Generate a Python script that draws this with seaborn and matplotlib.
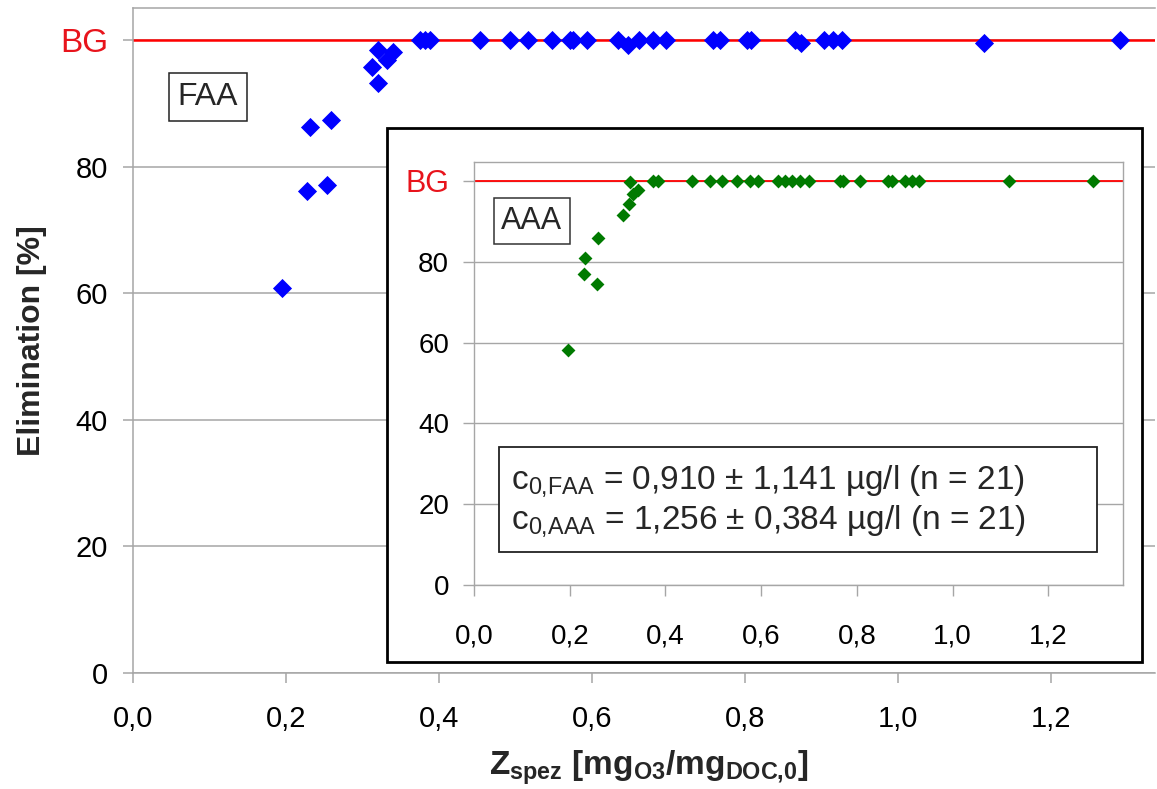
import matplotlib
matplotlib.use("Agg")
import matplotlib.pyplot as plt
import seaborn as sns
import pandas as pd
from matplotlib.patches import Rectangle

# ---------------- data ----------------
faa_x = [0.195, 0.227, 0.231, 0.254, 0.259, 0.312, 0.320, 0.320, 0.332, 0.340,
         0.375, 0.382, 0.388, 0.454, 0.493, 0.516, 0.548, 0.571, 0.575, 0.593,
         0.634, 0.647, 0.661, 0.680, 0.697, 0.758, 0.768, 0.803, 0.808, 0.865,
         0.873, 0.903, 0.915, 0.927, 1.112, 1.290]
faa_y = [60.9, 76.2, 86.3, 77.2, 87.4, 95.8, 93.3, 98.5, 96.9, 98.2,
         100, 100, 100, 100, 100, 100, 100, 100, 100, 100,
         100, 99.2, 100, 100, 100, 100, 100, 100, 100, 100,
         99.5, 100, 100, 100, 99.6, 100]

aaa_x = [0.196, 0.230, 0.232, 0.256, 0.260, 0.312, 0.323, 0.326, 0.333, 0.343,
         0.375, 0.385, 0.455, 0.493, 0.518, 0.549, 0.577, 0.594, 0.636, 0.650,
         0.664, 0.681, 0.699, 0.765, 0.772, 0.807, 0.866, 0.873, 0.901, 0.915,
         0.929, 1.117, 1.294]
aaa_y = [58.1, 76.9, 80.9, 74.5, 85.9, 91.5, 94.2, 99.8, 96.9, 97.8,
         100, 100, 100, 100, 100, 100, 100, 100, 100, 100,
         100, 100, 100, 100, 100, 100, 100, 100, 100, 100,
         100, 100, 100]

x_ticks = [0.0, 0.2, 0.4, 0.6, 0.8, 1.0, 1.2]
x_tick_labels = ["0,0", "0,2", "0,4", "0,6", "0,8", "1,0", "1,2"]
y_ticks = [0, 20, 40, 60, 80, 100]
y_tick_labels = ["0", "20", "40", "60", "80", "BG"]
bg_level = 100

stats_lines = [r"c$_{0{,}\mathrm{FAA}}$ = 0,910 ± 1,141 µg/l (n = 21)",
               r"c$_{0{,}\mathrm{AAA}}$ = 1,256 ± 0,384 µg/l (n = 21)"]

# ---------------- style ----------------
sns.set_theme(style="white")
plt.rcParams["font.family"] = ["Liberation Sans", "DejaVu Sans"]
plt.rcParams["mathtext.fontset"] = "custom"
plt.rcParams["mathtext.rm"] = "Liberation Sans"
plt.rcParams["mathtext.it"] = "Liberation Sans:italic"
plt.rcParams["mathtext.bf"] = "Liberation Sans:bold"

GRID = "#a6a6a6"
W, H = 1157, 789

def fx(px):
    return px / W

def fy(py):
    return 1 - py / H

fig = plt.figure(figsize=(W / 100, H / 100), dpi=100)

# ---------------- main axes ----------------
ax = fig.add_axes([fx(133), fy(673), fx(1155) - fx(133), fy(8) - fy(673)])
df_faa = pd.DataFrame({"x": faa_x, "y": faa_y})
sns.scatterplot(data=df_faa, x="x", y="y", ax=ax, marker="D", s=95,
                color="#0000ff", linewidth=0, zorder=3, legend=False)
ax.axhline(bg_level, color="#ff0000", lw=1.8, zorder=2)
ax.set_xlim(0, 1.336)
ax.set_ylim(0, 105.1)
ax.set_xticks(x_ticks)
ax.set_xticklabels(x_tick_labels)
ax.set_yticks(y_ticks)
ax.set_yticklabels(y_tick_labels)
ax.grid(axis="y", color=GRID, lw=1.1, zorder=0)
ax.set_axisbelow(True)
ax.tick_params(axis="both", which="major", length=7, width=1.1, color=GRID,
               labelsize=21, labelcolor="black", direction="out",
               bottom=True, left=True)
ax.tick_params(axis="x", pad=16)
ax.tick_params(axis="y", pad=11)
lab = ax.get_yticklabels()[-1]
lab.set_color("#e8141c")
lab.set_fontsize(24)
ax.yaxis.get_major_ticks()[-1].tick1line.set_color("#ff0000")
for s in ax.spines.values():
    s.set_color(GRID)
    s.set_linewidth(1.1)
ax.spines["right"].set_visible(False)
ax.set_xlabel(r"$\mathbf{Z_{spez}\ [mg_{O3}/mg_{DOC{,}0}]}$", fontsize=24)
ax.xaxis.label.set_verticalalignment("center")
ax.xaxis.set_label_coords(0.505, (673 - 768) / 665)
ax.set_ylabel("Elimination [%]", fontsize=23, fontweight="bold")
ax.yaxis.set_label_coords((47 - 133) / 1022, 0.5)
ax.text(0.098, 91.0, "FAA", fontsize=23, ha="center", va="center", zorder=4,
        bbox=dict(boxstyle="square,pad=0.28", fc="white", ec="#222222", lw=1.1))

# ---------------- inset frame ----------------
frame = Rectangle((fx(387), fy(662)), fx(1142) - fx(387), fy(128) - fy(662),
                  transform=fig.transFigure, facecolor="white",
                  edgecolor="black", lw=2.0, zorder=1)
fig.patches.append(frame)

# ---------------- inset axes ----------------
axi = fig.add_axes([fx(474), fy(585), fx(1123) - fx(474), fy(162) - fy(585)])
axi.set_zorder(2)
df_aaa = pd.DataFrame({"x": aaa_x, "y": aaa_y})
sns.scatterplot(data=df_aaa, x="x", y="y", ax=axi, marker="D", s=50,
                color="#007a00", linewidth=0, zorder=3, legend=False)
axi.axhline(bg_level, color="#ff0000", lw=1.3, zorder=2)
axi.set_xlim(0, 1.356)
axi.set_ylim(0, 104.7)
axi.set_xticks(x_ticks)
axi.set_xticklabels(x_tick_labels)
axi.set_yticks(y_ticks)
axi.set_yticklabels(y_tick_labels)
axi.grid(axis="y", color=GRID, lw=1.0, zorder=0)
axi.set_axisbelow(True)
axi.tick_params(axis="both", which="major", length=8, width=1.0, color=GRID,
                labelsize=20, labelcolor="black", direction="out",
                bottom=True, left=True)
axi.tick_params(axis="x", pad=20)
axi.tick_params(axis="y", pad=10)
labi = axi.get_yticklabels()[-1]
labi.set_color("#e8141c")
labi.set_fontsize(22)
axi.yaxis.get_major_ticks()[-1].tick1line.set_color("#ff0000")
for s in axi.spines.values():
    s.set_color(GRID)
    s.set_linewidth(1.0)
axi.set_xlabel("")
axi.set_ylabel("")
axi.text(0.121, 90.1, "AAA", fontsize=22, ha="center", va="center", zorder=4,
         bbox=dict(boxstyle="square,pad=0.25", fc="white", ec="#333333", lw=1.1))

# ---------------- statistics box ----------------
stats_box = Rectangle((fx(499), fy(552)), fx(1097) - fx(499), fy(447) - fy(552),
                      transform=fig.transFigure, facecolor="white",
                      edgecolor="#222222", lw=1.3, zorder=3)
fig.patches.append(stats_box)
for i, line in enumerate(stats_lines):
    fig.text(fx(511), fy(481 + 40 * i), line, fontsize=24, ha="left",
             va="center", zorder=4)

fig.savefig("out.png", dpi=100)
